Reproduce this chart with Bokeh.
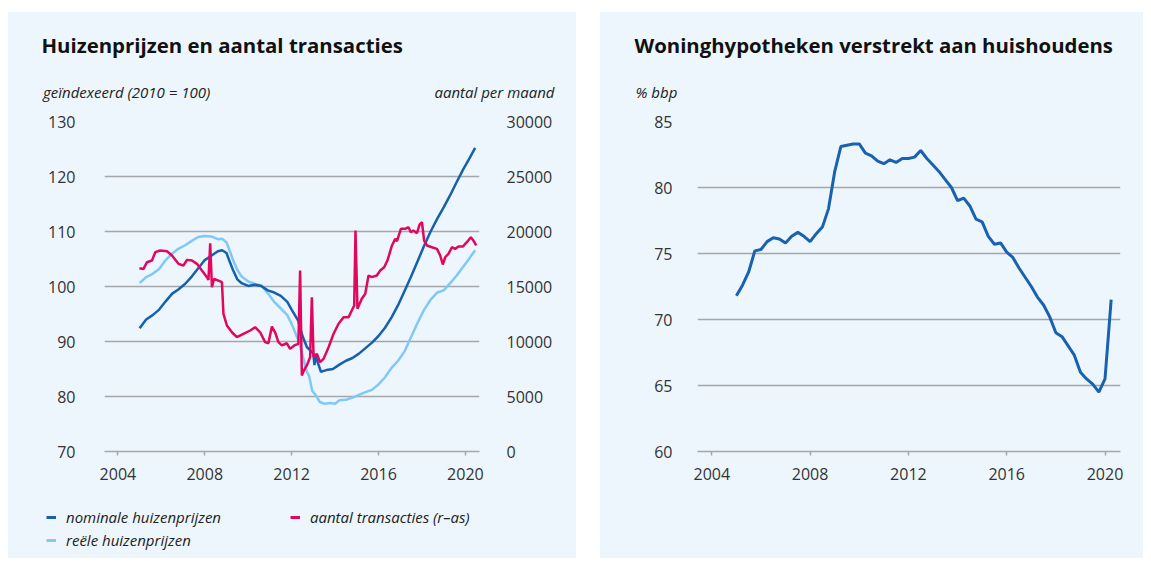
from bokeh.plotting import figure
from bokeh.models import Range1d, LinearAxis, FixedTicker, Label, Legend, LegendItem, Spacer
from bokeh.layouts import row, column
from bokeh.embed import file_html
from bokeh.resources import INLINE

# ---------------- data ----------------
nom_years = [2005.0, 2005.3, 2005.6, 2005.9, 2006.2, 2006.5, 2006.8, 2007.1, 2007.4, 2007.7,
             2008.0, 2008.3, 2008.6, 2008.8, 2009.0, 2009.15, 2009.3, 2009.5, 2009.7, 2010.0,
             2010.3, 2010.6, 2010.9, 2011.2, 2011.5, 2011.8, 2012.0, 2012.3, 2012.5, 2012.7,
             2012.9, 2013.0, 2013.05, 2013.1, 2013.2, 2013.35, 2013.6, 2013.9, 2014.2, 2014.5,
             2014.8, 2015.1, 2015.4, 2015.7, 2016.0, 2016.3, 2016.6, 2016.9, 2017.2, 2017.5,
             2017.8, 2018.1, 2018.4, 2018.7, 2019.0, 2019.3, 2019.6, 2019.9, 2020.2, 2020.45]
nom_vals = [92.4, 94.0, 94.8, 95.8, 97.3, 98.7, 99.5, 100.5, 101.8, 103.3,
            104.8, 105.6, 106.4, 106.6, 106.1, 104.5, 103.0, 101.3, 100.6, 100.1,
            100.3, 100.1, 99.3, 98.9, 98.3, 97.2, 95.8, 93.8, 91.0, 89.0,
            88.2, 87.8, 85.7, 87.5, 86.2, 84.5, 84.8, 85.0, 85.8, 86.5,
            87.0, 87.8, 88.8, 89.8, 91.0, 92.5, 94.4, 96.6, 99.2, 101.8,
            104.6, 107.4, 110.0, 112.3, 114.4, 116.6, 119.0, 121.3, 123.4, 125.2]

real_years = [2005.0, 2005.3, 2005.6, 2005.9, 2006.2, 2006.5, 2006.8, 2007.1, 2007.4, 2007.7,
              2008.0, 2008.3, 2008.6, 2008.8, 2009.0, 2009.15, 2009.3, 2009.5, 2009.7, 2010.0,
              2010.3, 2010.6, 2010.9, 2011.2, 2011.5, 2011.8, 2012.0, 2012.3, 2012.5, 2012.7,
              2012.8, 2012.95, 2013.1, 2013.3, 2013.5, 2013.8, 2014.0, 2014.2, 2014.5, 2014.8,
              2015.1, 2015.4, 2015.7, 2016.0, 2016.3, 2016.6, 2016.9, 2017.2, 2017.5, 2017.8,
              2018.1, 2018.4, 2018.7, 2019.0, 2019.3, 2019.6, 2019.9, 2020.2, 2020.45]
real_vals = [100.6, 101.7, 102.3, 103.2, 104.8, 106.0, 106.9, 107.5, 108.3, 109.0,
             109.2, 109.1, 108.6, 108.7, 108.0, 106.5, 104.8, 103.0, 101.8, 100.9,
             100.5, 100.2, 98.8, 97.2, 96.0, 94.8, 93.2, 90.3, 87.5, 84.5,
             83.8, 81.0, 80.3, 79.0, 78.7, 78.8, 78.7, 79.3, 79.4, 79.8,
             80.3, 80.8, 81.2, 82.2, 83.5, 85.2, 86.5, 88.2, 90.8, 93.4,
             95.8, 97.6, 98.9, 99.3, 100.6, 102.0, 103.6, 105.2, 106.6]

tr_years = [2004.99, 2005.18, 2005.34, 2005.57, 2005.72, 2005.95, 2006.26, 2006.49, 2006.79, 2007.02,
            2007.18, 2007.41, 2007.64, 2007.87, 2008.10, 2008.17, 2008.25, 2008.33, 2008.43, 2008.63,
            2008.79, 2008.86, 2009.02, 2009.25, 2009.48, 2009.78, 2010.09, 2010.32, 2010.55, 2010.78,
            2010.93, 2011.09, 2011.24, 2011.39, 2011.55, 2011.78, 2011.93, 2012.12, 2012.31, 2012.39,
            2012.47, 2012.55, 2012.70, 2012.85, 2012.93, 2013.01, 2013.16, 2013.31, 2013.47, 2013.70,
            2013.93, 2014.16, 2014.39, 2014.62, 2014.77, 2014.88, 2014.94, 2015.03, 2015.23, 2015.39,
            2015.54, 2015.69, 2015.92, 2016.08, 2016.26, 2016.41, 2016.62, 2016.77, 2016.85, 2017.03,
            2017.23, 2017.38, 2017.49, 2017.61, 2017.77, 2017.89, 2018.00, 2018.10, 2018.23, 2018.46,
            2018.69, 2018.84, 2018.96, 2019.07, 2019.22, 2019.38, 2019.53, 2019.68, 2019.88, 2020.07,
            2020.25, 2020.37, 2020.50]
tr_vals = [16660, 16600, 17210, 17360, 18120, 18270, 18210, 17820, 17060, 16910,
           17420, 17360, 17060, 16450, 15850, 15600, 18930, 14940, 15700, 15540,
           15390, 12520, 11450, 10840, 10390, 10700, 11000, 11300, 10840, 9940,
           9840, 11360, 10840, 9940, 9640, 9840, 9330, 9640, 9790, 16450,
           6910, 7300, 7820, 8570, 14030, 8570, 8880, 8120, 8420, 9480,
           10700, 11610, 12210, 12210, 12820, 13270, 20090, 12970, 13880, 14340,
           16000, 15850, 16000, 16450, 16750, 17360, 18730, 19330, 19120, 20240,
           20240, 20390, 19930, 20090, 19850, 20630, 20840, 19180, 18730, 18570,
           18420, 17820, 17000, 17660, 17970, 18570, 18420, 18630, 18630, 19030,
           19480, 19180, 18730]

mort_years = [2005.0, 2005.25, 2005.5, 2005.75, 2006.0, 2006.25, 2006.5, 2006.75, 2007.0, 2007.25,
              2007.5, 2007.75, 2008.0, 2008.25, 2008.5, 2008.75, 2009.0, 2009.25, 2009.5, 2009.75,
              2010.0, 2010.25, 2010.5, 2010.75, 2011.0, 2011.25, 2011.5, 2011.75, 2012.0, 2012.25,
              2012.5, 2012.75, 2013.0, 2013.25, 2013.5, 2013.75, 2014.0, 2014.25, 2014.5, 2014.75,
              2015.0, 2015.25, 2015.5, 2015.75, 2016.0, 2016.25, 2016.5, 2016.75, 2017.0, 2017.25,
              2017.5, 2017.75, 2018.0, 2018.25, 2018.5, 2018.75, 2019.0, 2019.25, 2019.5, 2019.75,
              2020.0, 2020.25]
mort_vals = [71.8, 72.6, 73.6, 75.2, 75.3, 75.9, 76.2, 76.1, 75.8, 76.3,
             76.6, 76.3, 75.9, 76.5, 77.0, 78.4, 81.2, 83.1, 83.2, 83.3,
             83.3, 82.6, 82.4, 82.0, 81.8, 82.1, 81.9, 82.2, 82.2, 82.3,
             82.8, 82.2, 81.7, 81.2, 80.6, 80.0, 79.0, 79.2, 78.6, 77.6,
             77.4, 76.3, 75.7, 75.8, 75.1, 74.7, 73.9, 73.2, 72.5, 71.7,
             71.1, 70.2, 69.0, 68.7, 68.0, 67.3, 66.0, 65.5, 65.1, 64.5,
             65.5, 71.5]

left_yticks = [70, 80, 90, 100, 110, 120, 130]
right_yticks = [0, 5000, 10000, 15000, 20000, 25000, 30000]
mort_yticks = [60, 65, 70, 75, 80, 85]
year_ticks = [2004, 2008, 2012, 2016, 2020]

# ---------------- style ----------------
BG = "#edf6fd"
GRID = "#a4a8ad"
DARK = "#1660ad"
LIGHT = "#80c8f6"
PINK = "#e2065f"
TXT = "#333333"
FONT = "Open Sans"


def style(p):
    p.background_fill_color = BG
    p.border_fill_color = BG
    p.outline_line_color = None
    p.xgrid.grid_line_color = None
    p.ygrid.grid_line_color = GRID
    p.ygrid.grid_line_width = 1.5
    ax = p.xaxis[0]
    ax.ticker = FixedTicker(ticks=year_ticks)
    ax.axis_line_color = GRID
    ax.axis_line_width = 1.5
    ax.major_tick_line_color = GRID
    ax.major_tick_line_width = 1.5
    ax.major_tick_in = 0
    ax.major_tick_out = 4
    ax.minor_tick_line_color = None
    ax.major_label_standoff = 12
    ax.major_label_text_font = FONT
    ax.major_label_text_font_size = "16px"
    ax.major_label_text_color = TXT


def style_y(ax, standoff):
    ax.axis_line_color = None
    ax.major_tick_line_color = None
    ax.minor_tick_line_color = None
    ax.major_tick_in = 0
    ax.major_tick_out = 0
    ax.major_label_standoff = standoff
    ax.major_label_text_font = FONT
    ax.major_label_text_font_size = "16px"
    ax.major_label_text_color = TXT


def blank(width, height):
    h = figure(width=width, height=height, output_backend="svg", toolbar_location=None,
               x_range=Range1d(0, width), y_range=Range1d(0, height),
               x_axis_location=None, y_axis_location=None, min_border=0, frame_align=False)
    h.background_fill_color = BG
    h.border_fill_color = BG
    h.outline_line_color = None
    h.grid.visible = False
    return h


def label(p, x, y, text, size, style="normal", align="left", color="#111111"):
    p.add_layout(Label(x=x, y=y, x_units="screen", y_units="screen", text=text,
                       text_font=FONT, text_font_size=size, text_font_style=style,
                       text_align=align, text_baseline="middle", text_color=color))


HEAD_H = 97
MAIN_H = 387
FOOT_H = 62

# ---------------- left panel ----------------
h1 = blank(568, HEAD_H)
label(h1, 33, 65, "Huizenprijzen en aantal transacties", "20.4px", "bold")
label(h1, 34.5, 18, "geïndexeerd (2010 = 100)", "15px", "italic", color="#222222")
label(h1, 546, 18, "aantal per maand", "15px", "italic", align="right", color="#222222")

p1 = figure(width=568, height=MAIN_H, output_backend="svg", toolbar_location=None,
            x_range=Range1d(2003.383, 2020.65), y_range=Range1d(70, 130), frame_align=False,
            min_border_left=96, min_border_right=97, min_border_top=12, min_border_bottom=45)
p1.extra_y_ranges = {"n": Range1d(0, 30000)}
style(p1)
p1.yaxis[0].ticker = FixedTicker(ticks=left_yticks)
style_y(p1.yaxis[0], 29)
p1.ygrid.ticker = FixedTicker(ticks=left_yticks[1:])
rax = LinearAxis(y_range_name="n", ticker=FixedTicker(ticks=right_yticks))
style_y(rax, 27)
p1.add_layout(rax, "right")

p1.line(real_years, real_vals, line_color=LIGHT, line_width=2.5)
p1.line(nom_years, nom_vals, line_color=DARK, line_width=2.5)
p1.line(tr_years, tr_vals, line_color=PINK, line_width=2.5, y_range_name="n")

# legend strip below the chart: the series are attached here only as legend keys
# (their years lie far outside this strip's 0..568 range, so nothing is drawn)
f1 = blank(568, FOOT_H)
k_nom = f1.line(nom_years, nom_vals, line_color=DARK, line_width=3)
k_real = f1.line(real_years, real_vals, line_color=LIGHT, line_width=3)
k_tr = f1.line(tr_years, tr_vals, line_color=PINK, line_width=3)
leg_kw = dict(label_text_font=FONT, label_text_font_style="italic", label_text_font_size="15px",
              label_text_color="#222222", glyph_width=10, glyph_height=20, label_height=20,
              label_standoff=10, spacing=3, padding=0, margin=0, border_line_color=None,
              background_fill_alpha=0)
f1.add_layout(Legend(items=[LegendItem(label="nominale huizenprijzen", renderers=[k_nom]),
                            LegendItem(label="reële huizenprijzen", renderers=[k_real])],
                     location=(38, 8), **leg_kw))
f1.add_layout(Legend(items=[LegendItem(label="aantal transacties (r–as)", renderers=[k_tr])],
                     location=(282, 31), **leg_kw))

# ---------------- right panel ----------------
h2 = blank(543, HEAD_H)
label(h2, 34, 65, "Woninghypotheken verstrekt aan huishoudens", "20.35px", "bold")
label(h2, 35, 18, "% bbp", "15px", "italic", color="#222222")

p2 = figure(width=543, height=MAIN_H + FOOT_H, output_backend="svg", toolbar_location=None,
            x_range=Range1d(2003.418, 2020.63), y_range=Range1d(60, 85), frame_align=False,
            min_border_left=97, min_border_right=23, min_border_top=12,
            min_border_bottom=45 + FOOT_H)
style(p2)
p2.yaxis[0].ticker = FixedTicker(ticks=mort_yticks)
style_y(p2.yaxis[0], 25)
p2.ygrid.ticker = FixedTicker(ticks=mort_yticks[1:])
p2.line(mort_years, mort_vals, line_color="#1a62b0", line_width=3)

panel_style = {"background-color": BG}
layout = column(Spacer(height=12),
                row(Spacer(width=8),
                    column(h1, p1, f1, styles=panel_style),
                    Spacer(width=24),
                    column(h2, p2, styles=panel_style)))
open("out.html", "w").write(file_html(layout, INLINE))
